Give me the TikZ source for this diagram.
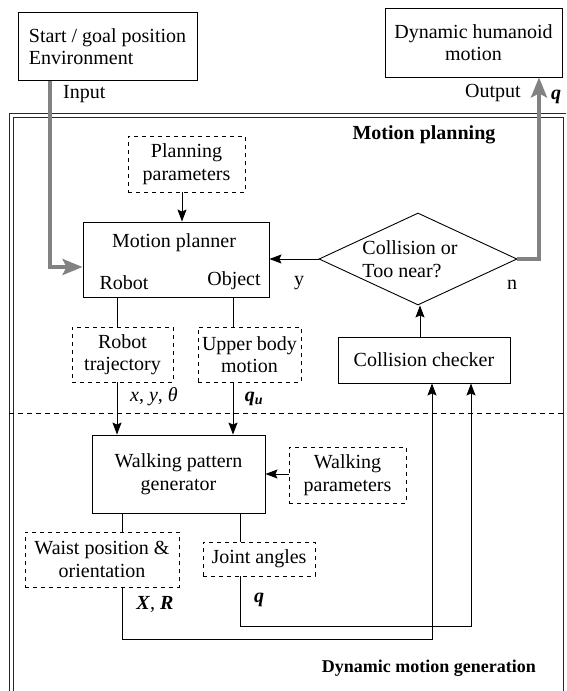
\documentclass[tikz,border=0pt]{standalone}
\usepackage{fontspec}
\setmainfont{Liberation Serif}
\usetikzlibrary{shapes.geometric,arrows.meta}
\definecolor{gry}{RGB}{130,130,130}
\definecolor{frm}{RGB}{40,40,40}
\begin{document}
\begin{tikzpicture}[x=1pt,y=-1pt,
  every node/.style={font=\fontsize{20}{22.5}\selectfont, inner sep=0pt},
  box/.style={draw, line width=0.9pt, align=center},
  dbox/.style={draw, line width=0.9pt, dash pattern=on 4pt off 4pt, align=center},
  ln/.style={line width=0.9pt},
  arr/.style={line width=0.9pt, -{Stealth[length=12pt,width=9pt,inset=2pt]}},
  garr/.style={line width=3.5pt, draw=gry, line join=miter, -{Stealth[length=20pt,width=16pt,inset=4pt]}},
  bf/.style={font=\fontsize{20}{22.5}\selectfont\bfseries},
  bfs/.style={font=\fontsize{18}{21}\selectfont\bfseries}
  ]
\path[use as bounding box] (0,0) rectangle (566,691);
\clip (0,0) rectangle (566,691);

% frames
\draw[frm, line width=0.9pt] (9,113) rectangle (600,720);
\draw[frm, line width=0.9pt] (13,117) rectangle (563,720);
\draw[ln, dash pattern=on 5pt off 4pt] (9,413) -- (563,413);

% top boxes
\node[box, align=left, minimum width=179pt, minimum height=68pt] (start) at (107.5,46.5) {Start / goal position\\Environment};
\node[box, minimum width=177pt, minimum height=69pt] (dyn) at (473.5,42.5) {Dynamic humanoid\\motion};
\node[anchor=west] (input) at (63,94) {Input};
\node[anchor=west] (output) at (465,93) {Output};
\node (qout) at (556,97) {\textbf{\textit{q}}};

\node[bf] (mplan) at (424,135) {Motion planning};
\node[bfs, anchor=east] (dmg) at (536,668) {Dynamic motion generation};

% motion planning part
\node[dbox, minimum width=117pt, minimum height=56pt] (pparam) at (186.5,164) {Planning\\parameters};
\node[box, minimum width=186pt, minimum height=75pt] (mp) at (176,259.5) {};
\node (mptxt) at (174,243) {Motion planner};
\node (robot) at (124,283) {Robot};
\node (object) at (234,281) {Object};

\node[draw, diamond, line width=0.9pt, minimum width=198pt, minimum height=92pt, aspect=2.15] (dia) at (418,259) {};
\node[align=left] (diatxt) at (410,259) {Collision or\\Too near?};
\node (ylab) at (299,283) {y};
\node (nlab) at (512,285) {n};

\node[box, minimum width=172pt, minimum height=46pt] (cc) at (424,360) {Collision checker};

\node[dbox, minimum width=101pt, minimum height=55pt] (rtraj) at (122.5,354.5) {Robot\\trajectory};
\node[dbox, minimum width=103pt, minimum height=55pt] (ubody) at (249.5,354.5) {Upper body\\motion};
\node (xyt) at (154,397) {\textit{x}, \textit{y}, \textit{θ}};
\node (qu) at (254,399) {\textbf{\textit{q}}\textsubscript{\textbf{\textit{u}}}};

% walking part
\node[box, minimum width=173pt, minimum height=78pt] (wpg) at (178.5,474) {Walking pattern\\generator};
\node[dbox, minimum width=117pt, minimum height=56pt] (wparam) at (347.5,475) {Walking\\parameters};
\node[dbox, minimum width=154pt, minimum height=55pt] (waist) at (102,559.5) {Waist position \&\\orientation};
\node[dbox, minimum width=112pt, minimum height=34pt] (joint) at (259,559) {Joint angles};
\node (xr) at (155,604) {\textbf{\textit{X}}, \textbf{\textit{R}}};
\node (qj) at (259,600) {\textbf{\textit{q}}};

% connectors
\draw[arr] (182,0 |- pparam.south) -- (182,0 |- mp.north);
\draw[arr] (dia.west) -- (mp.east |- dia.west);
\draw[arr] (420,0 |- cc.north) -- (420,0 |- dia.south);
\draw[ln] (117,0 |- mp.south) -- (117,0 |- rtraj.north);
\draw[ln] (233,0 |- mp.south) -- (233,0 |- ubody.north);
\draw[arr] (117,0 |- rtraj.south) -- (117,0 |- wpg.north);
\draw[arr] (233,0 |- ubody.south) -- (233,0 |- wpg.north);
\draw[arr] (wparam.west |- 0,474) -- (wpg.east |- 0,474);
\draw[ln] (122,0 |- wpg.south) -- (122,0 |- waist.north);
\draw[ln] (240,0 |- wpg.south) -- (240,0 |- joint.north);
\draw[arr] (122,0 |- waist.south) -- (122,639) -- (432,639) -- (432,0 |- cc.south);
\draw[arr] (240,0 |- joint.south) -- (240,626) -- (471,626) -- (471,0 |- cc.south);

% gray input / output
\draw[garr] (50,0 |- start.south) -- (50,267) -- (mp.west |- 0,267);
\draw[garr] (dia.east) -- (539,0 |- dia.east) -- (539,0 |- dyn.south);
\end{tikzpicture}
\end{document}
